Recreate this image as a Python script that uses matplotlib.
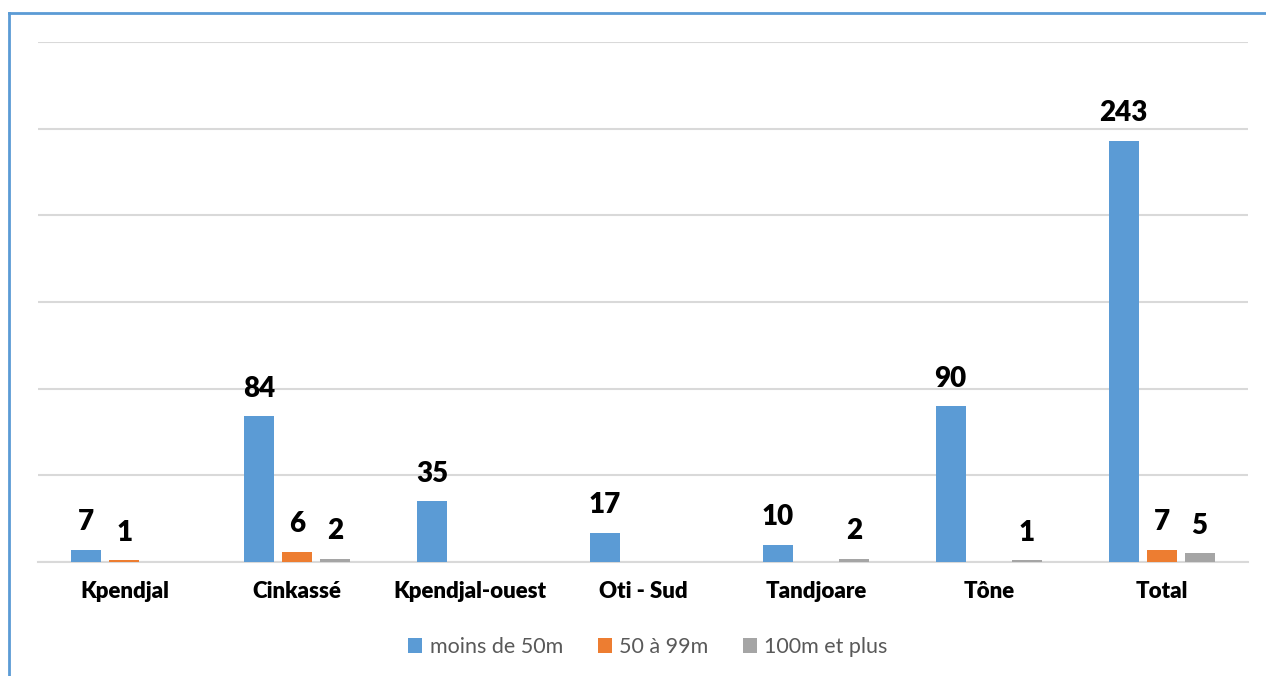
import matplotlib
matplotlib.use("Agg")
import matplotlib.pyplot as plt
from matplotlib.lines import Line2D
from matplotlib.patches import Patch
import numpy as np

categories = ["Kpendjal", "Cinkassé", "Kpendjal-ouest", "Oti - Sud", "Tandjoare", "Tône", "Total"]
series_names = ["moins de 50m", "50 à 99m", "100m et plus"]
moins_50 = [7, 84, 35, 17, 10, 90, 243]
de_50_99 = [1, 6, 0, 0, 0, 0, 7]
plus_100 = [0, 2, 0, 0, 2, 1, 5]
colors = ["#5B9BD5", "#ED7D31", "#A5A5A5"]

plt.rcParams['font.family'] = ['Lato', 'DejaVu Sans']

fig = plt.figure(figsize=(12.66, 6.76), dpi=100)
ax = fig.add_axes([38/1266, 1-562/676, (1248-38)/1266, (562-42)/676])

x = np.arange(len(categories))
width = 0.174
step = 0.22
for i, (vals, c) in enumerate(zip([moins_50, de_50_99, plus_100], colors)):
    offs = (i - 1) * step
    for xi, v in zip(x, vals):
        if v == 0:
            continue
        ax.bar(xi + offs, v, width=width, color=c, zorder=3)
        ax.annotate(str(v), (xi + offs, v), xytext=(0, 14), textcoords='offset points',
                    ha='center', va='baseline', fontsize=20, fontweight='heavy', color='black')

ax.set_xlim(-0.5, len(categories) - 0.5)
ax.set_ylim(0, 300)
ax.set_yticks(np.arange(0, 301, 50))
ax.yaxis.grid(True, color='#D9D9D9', linewidth=1.5, zorder=0)
ax.set_axisbelow(True)
ax.tick_params(axis='y', left=False, labelleft=False)
ax.set_xticks(x)
ax.set_xticklabels(categories, fontsize=16, fontweight='heavy')
ax.tick_params(axis='x', length=0, pad=14)
for s in ['top', 'right', 'left']:
    ax.spines[s].set_visible(False)
ax.spines['bottom'].set_color('#D9D9D9')
ax.spines['bottom'].set_linewidth(1.5)

handles = [Patch(facecolor=c, edgecolor='none') for c in colors]
leg = fig.legend(handles, series_names, loc='center', bbox_to_anchor=(648/1266, 1-647/676),
                 ncol=3, frameon=False, fontsize=15.5, handlelength=0.65, handleheight=0.65,
                 columnspacing=1.6, handletextpad=0.35)
for t in leg.get_texts():
    t.set_color('#595959')

# blue frame
fig.add_artist(Line2D([9/1266, 9/1266], [0, 1-13/676], color='#5B9BD5', linewidth=2, transform=fig.transFigure))
fig.add_artist(Line2D([9/1266, 1], [1-13/676, 1-13/676], color='#5B9BD5', linewidth=2, transform=fig.transFigure))

fig.savefig("out.png", dpi=100)
